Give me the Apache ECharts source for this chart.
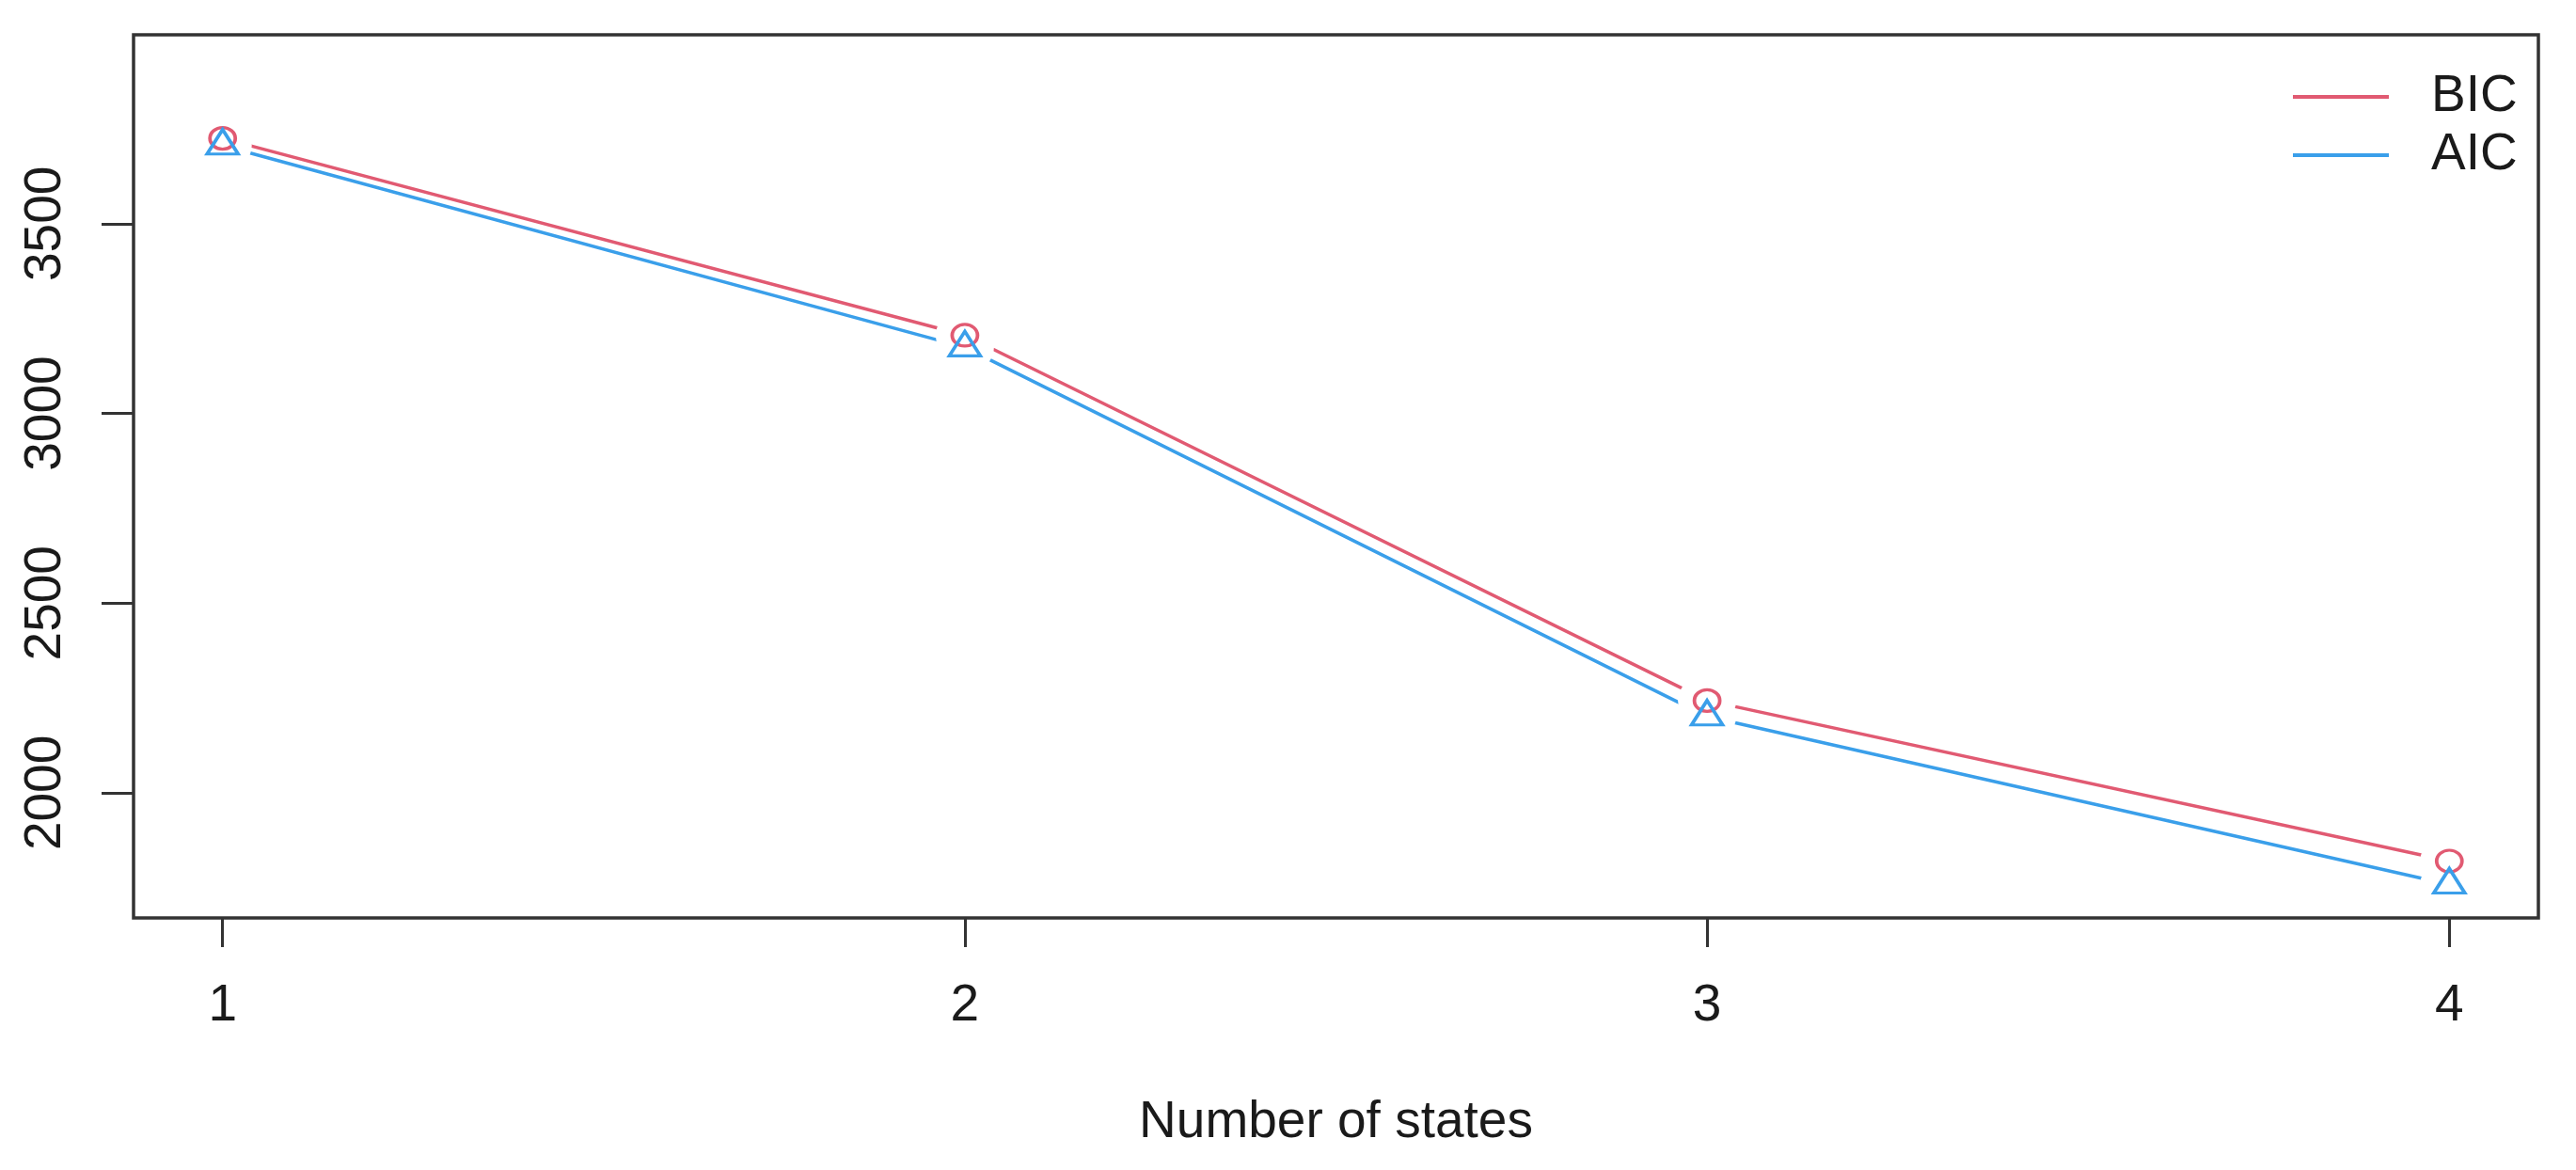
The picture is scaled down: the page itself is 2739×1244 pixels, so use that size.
<!DOCTYPE html>
<html>
<head>
<meta charset="utf-8">
<script src="https://cdn.jsdelivr.net/npm/echarts@6/dist/echarts.min.js"></script>
<style>
  html, body { margin: 0; padding: 0; background: #ffffff; }
  #chart { width: 2739px; height: 1244px; }
</style>
</head>
<body>
<div id="chart"></div>
<script>
// ---- data ----
const states = [1, 2, 3, 4];
const bicValues = [3725, 3206, 2243, 1820];
const aicValues = [3706, 3174, 2201, 1758];
const xTickValues = [1, 2, 3, 4];
const yTickValues = [2000, 2500, 3000, 3500];
const xAxisTitle = 'Number of states';
const seriesNames = ['BIC', 'AIC'];

const bicPairs = states.map((s, i) => [s, bicValues[i]]);
const aicPairs = states.map((s, i) => [s, aicValues[i]]);

const RED = '#E15A72';
const BLUE = '#3A9FEA';
const FONT = '"Liberation Sans", Arial, sans-serif';
const ellipse = 'path://M0,-1 A1,1 0 1,1 0,1 A1,1 0 1,1 0,-1 Z';

const chart = echarts.init(document.getElementById('chart'), null, { renderer: 'canvas' });

chart.setOption({
  animation: false,
  backgroundColor: '#ffffff',
  grid: {
    left: 142, right: 40, top: 37, bottom: 268,
    show: true, borderColor: '#333333', borderWidth: 3.5, backgroundColor: 'transparent'
  },
  legend: {
    data: [
      { name: seriesNames[0], icon: 'rect' },
      { name: seriesNames[1], icon: 'rect' }
    ],
    orient: 'vertical',
    left: 2433, top: 67,
    itemGap: 0, itemWidth: 102, itemHeight: 4,
    selectedMode: false,
    textStyle: { fontFamily: FONT, fontSize: 55, lineHeight: 62, color: '#1a1a1a', padding: [0, 0, 0, 40] }
  },
  xAxis: {
    type: 'value', min: 0.88, max: 4.12,
    name: xAxisTitle, nameLocation: 'middle', nameGap: 190,
    nameTextStyle: { fontFamily: FONT, fontSize: 55, color: '#1a1a1a' },
    axisLine: { show: false },
    splitLine: { show: false },
    axisTick: { show: true, customValues: xTickValues, length: 31, lineStyle: { color: '#333333', width: 3 } },
    axisLabel: { customValues: xTickValues, margin: 66, fontFamily: FONT, fontSize: 55, color: '#1a1a1a',
      formatter: v => String(v) }
  },
  yAxis: {
    type: 'value', min: 1670, max: 3998,
    axisLine: { show: false },
    splitLine: { show: false },
    axisTick: { show: true, customValues: yTickValues, length: 34, lineStyle: { color: '#333333', width: 3 } },
    axisLabel: { customValues: yTickValues, rotate: 90, margin: 66, fontFamily: FONT, fontSize: 55, color: '#1a1a1a',
      formatter: v => String(v) }
  },
  series: [
    { name: seriesNames[0], type: 'line', data: bicPairs, showSymbol: false, color: RED,
      lineStyle: { color: RED, width: 3.5 }, z: 2, silent: true },
    { name: seriesNames[1], type: 'line', data: aicPairs, showSymbol: false, color: BLUE,
      lineStyle: { color: BLUE, width: 3.5 }, z: 2, silent: true },
    { name: 'gapBIC', type: 'scatter', data: bicPairs, symbol: ellipse, symbolSize: [62, 56],
      itemStyle: { color: '#ffffff', opacity: 1 }, z: 3, silent: true },
    { name: 'gapAIC', type: 'scatter', data: aicPairs, symbol: ellipse, symbolSize: [62, 56],
      itemStyle: { color: '#ffffff', opacity: 1 }, z: 3, silent: true },
    { name: 'markBIC', type: 'scatter', data: bicPairs, symbol: ellipse, symbolSize: [27, 23],
      itemStyle: { color: 'transparent', borderColor: RED, borderWidth: 3.5, opacity: 1 }, z: 4, silent: true },
    { name: 'markAIC', type: 'scatter', data: aicPairs, symbol: 'triangle', symbolSize: [33, 26],
      symbolOffset: [0, -4],
      itemStyle: { color: 'transparent', borderColor: BLUE, borderWidth: 3.5, opacity: 1 }, z: 5, silent: true }
  ]
});
</script>
</body>
</html>
